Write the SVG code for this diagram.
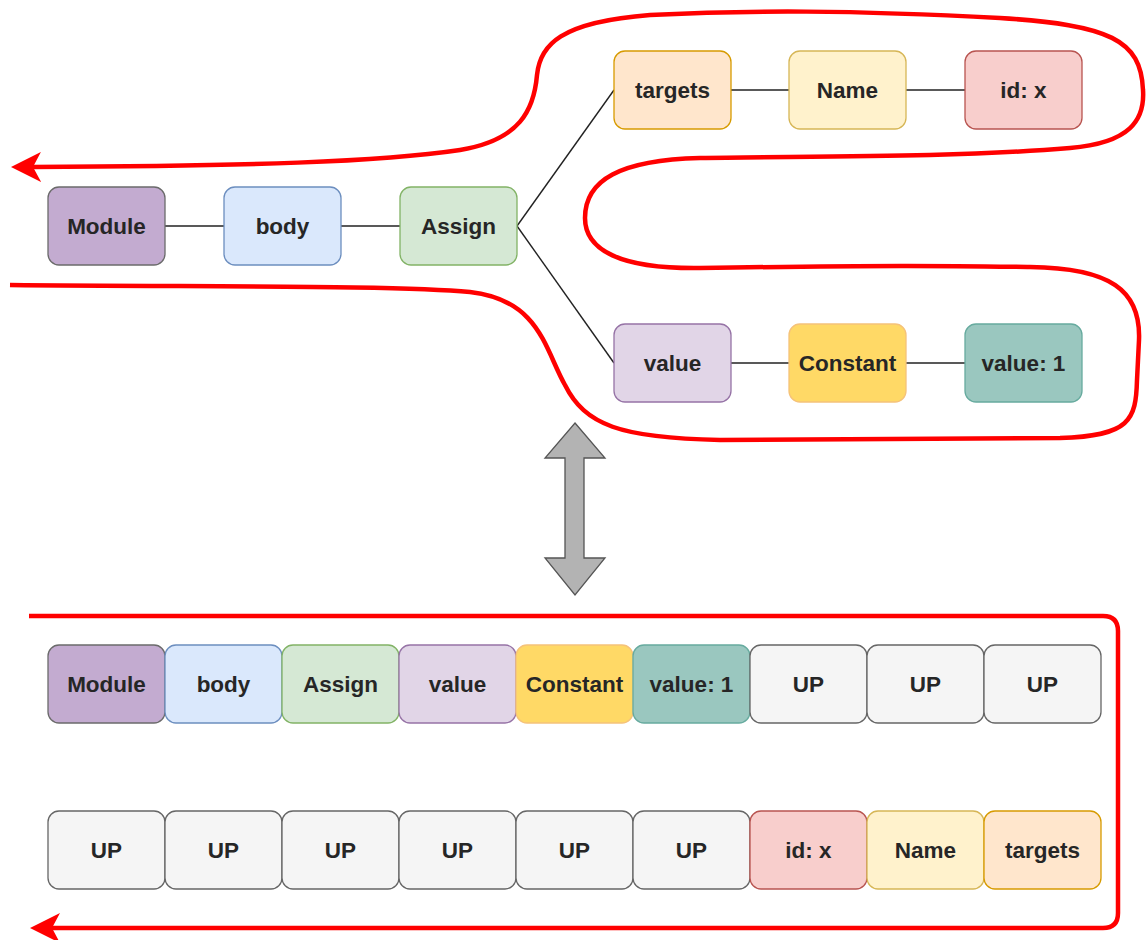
<svg xmlns="http://www.w3.org/2000/svg" width="1146" height="940" viewBox="0 0 1146 940">
<style>
.n rect{stroke-width:1.3}
.n text{font-family:"Liberation Sans",Arial,sans-serif;font-size:22.5px;font-weight:bold;fill:#262626;text-anchor:middle}
.mod rect{fill:#C3ABD0;stroke:#6b6b6b}
.bod rect{fill:#DAE8FC;stroke:#6C8EBF}
.asg rect{fill:#D5E8D4;stroke:#82B366}
.tgt rect{fill:#FFE6CC;stroke:#D79B00}
.nam rect{fill:#FFF2CC;stroke:#D6B656}
.idx rect{fill:#F8CECC;stroke:#B85450}
.val rect{fill:#E1D5E7;stroke:#9673A6}
.con rect{fill:#FFD966;stroke:#F5C27A}
.v1 rect{fill:#9AC7BF;stroke:#67AB9F}
.up rect{fill:#F5F5F5;stroke:#666666}
.edge{stroke:#222;stroke-width:1.4;fill:none}
.red{stroke:#FF0000;stroke-width:4.5;fill:none}
</style>
<defs>
<marker id="ah" viewBox="0 0 30 30" refX="8" refY="15" markerWidth="30" markerHeight="30" markerUnits="userSpaceOnUse" orient="auto">
<path d="M0,0 L30,15 L0,30 L8,15 Z" fill="#FF0000"/>
</marker>
</defs>

<g id="connectors">
<line class="edge" x1="165" y1="226" x2="224" y2="226"/>
<line class="edge" x1="341" y1="226" x2="400" y2="226"/>
<line class="edge" x1="517" y1="226" x2="614" y2="90"/>
<line class="edge" x1="517" y1="226" x2="614" y2="363"/>
<line class="edge" x1="731" y1="90" x2="789" y2="90"/>
<line class="edge" x1="906" y1="90" x2="965" y2="90"/>
<line class="edge" x1="731" y1="363" x2="789" y2="363"/>
<line class="edge" x1="906" y1="363" x2="965" y2="363"/>
</g>

<g id="traversal-curve">
<path class="red" marker-end="url(#ah)" d="M 10 285 C 200 287 400 285 470 292 C 540 300 545 350 565 385 C 585 425 620 438 720 440 L 1060 438 C 1130 436 1136 420 1137 380 L 1139 340 C 1141 290 1110 268 1030 267 C 950 266 900 265 700 268 C 620 269 585 250 585 218 C 585 180 620 160 700 158 C 800 156 950 158 1070 148 C 1130 143 1145 120 1143 90 C 1141 40 1110 25 1000 18 C 850 10 750 10 650 15 C 560 22 540 45 537 75 C 534 110 520 140 460 150 C 380 162 250 166 33 167"/>
</g>

<g id="sequence-arrow">
<path class="red" marker-end="url(#ah)" d="M 29 616 L 1103 616 Q 1118 616 1118 631 L 1118 913 Q 1118 928 1103 928 L 52 928"/>
</g>

<g id="double-arrow">
<polygon points="575,423 605,458 584,458 584,558 605,558 575,595 545,558 565,558 565,458 545,458" fill="#B3B3B3" stroke="#555" stroke-width="1.3"/>
</g>

<g id="n-module" class="n mod"><rect x="48" y="187" width="117" height="78" rx="11"/><text x="106.5" y="234">Module</text></g>
<g id="n-body" class="n bod"><rect x="224" y="187" width="117" height="78" rx="11"/><text x="282.5" y="234">body</text></g>
<g id="n-assign" class="n asg"><rect x="400" y="187" width="117" height="78" rx="11"/><text x="458.5" y="234">Assign</text></g>
<g id="n-targets" class="n tgt"><rect x="614" y="51" width="117" height="78" rx="11"/><text x="672.5" y="98">targets</text></g>
<g id="n-name" class="n nam"><rect x="789" y="51" width="117" height="78" rx="11"/><text x="847.5" y="98">Name</text></g>
<g id="n-idx" class="n idx"><rect x="965" y="51" width="117" height="78" rx="11"/><text x="1023.5" y="98">id: x</text></g>
<g id="n-value" class="n val"><rect x="614" y="324" width="117" height="78" rx="11"/><text x="672.5" y="371">value</text></g>
<g id="n-constant" class="n con"><rect x="789" y="324" width="117" height="78" rx="11"/><text x="847.5" y="371">Constant</text></g>
<g id="n-value1" class="n v1"><rect x="965" y="324" width="117" height="78" rx="11"/><text x="1023.5" y="371">value: 1</text></g>

<g id="s1-module" class="n mod"><rect x="48" y="645" width="117" height="78" rx="11"/><text x="106.5" y="692">Module</text></g>
<g id="s1-body" class="n bod"><rect x="165" y="645" width="117" height="78" rx="11"/><text x="223.5" y="692">body</text></g>
<g id="s1-assign" class="n asg"><rect x="282" y="645" width="117" height="78" rx="11"/><text x="340.5" y="692">Assign</text></g>
<g id="s1-value" class="n val"><rect x="399" y="645" width="117" height="78" rx="11"/><text x="457.5" y="692">value</text></g>
<g id="s1-constant" class="n con"><rect x="516" y="645" width="117" height="78" rx="11"/><text x="574.5" y="692">Constant</text></g>
<g id="s1-value1" class="n v1"><rect x="633" y="645" width="117" height="78" rx="11"/><text x="691.5" y="692">value: 1</text></g>
<g id="s1-up1" class="n up"><rect x="750" y="645" width="117" height="78" rx="11"/><text x="808.5" y="692">UP</text></g>
<g id="s1-up2" class="n up"><rect x="867" y="645" width="117" height="78" rx="11"/><text x="925.5" y="692">UP</text></g>
<g id="s1-up3" class="n up"><rect x="984" y="645" width="117" height="78" rx="11"/><text x="1042.5" y="692">UP</text></g>

<g id="s2-up1" class="n up"><rect x="48" y="811" width="117" height="78" rx="11"/><text x="106.5" y="858">UP</text></g>
<g id="s2-up2" class="n up"><rect x="165" y="811" width="117" height="78" rx="11"/><text x="223.5" y="858">UP</text></g>
<g id="s2-up3" class="n up"><rect x="282" y="811" width="117" height="78" rx="11"/><text x="340.5" y="858">UP</text></g>
<g id="s2-up4" class="n up"><rect x="399" y="811" width="117" height="78" rx="11"/><text x="457.5" y="858">UP</text></g>
<g id="s2-up5" class="n up"><rect x="516" y="811" width="117" height="78" rx="11"/><text x="574.5" y="858">UP</text></g>
<g id="s2-up6" class="n up"><rect x="633" y="811" width="117" height="78" rx="11"/><text x="691.5" y="858">UP</text></g>
<g id="s2-idx" class="n idx"><rect x="750" y="811" width="117" height="78" rx="11"/><text x="808.5" y="858">id: x</text></g>
<g id="s2-name" class="n nam"><rect x="867" y="811" width="117" height="78" rx="11"/><text x="925.5" y="858">Name</text></g>
<g id="s2-targets" class="n tgt"><rect x="984" y="811" width="117" height="78" rx="11"/><text x="1042.5" y="858">targets</text></g>
</svg>
